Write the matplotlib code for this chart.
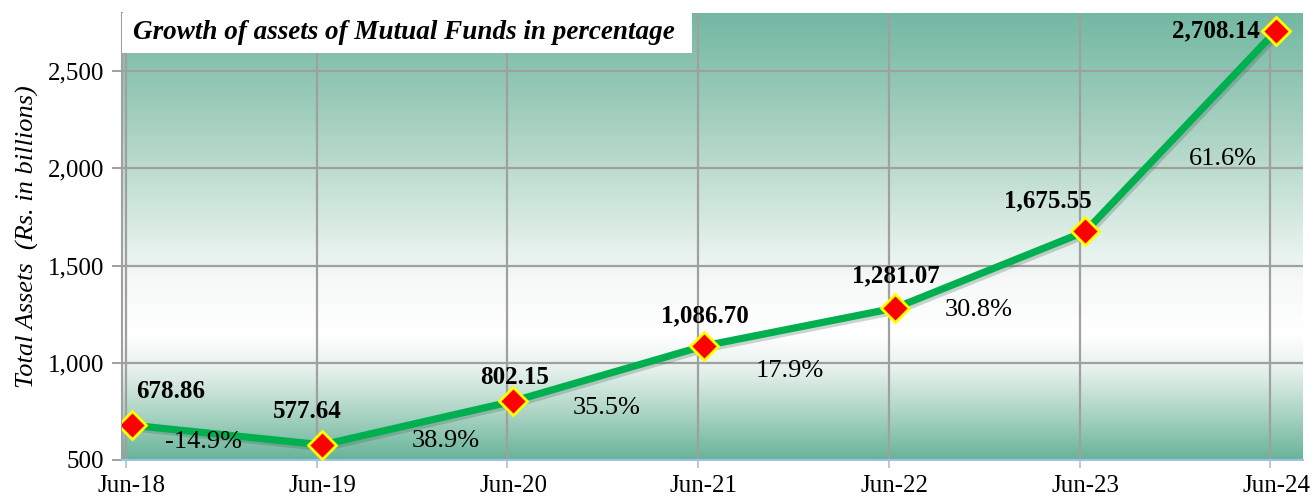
import matplotlib
matplotlib.use("Agg")
import numpy as np
import matplotlib.pyplot as plt
from matplotlib.colors import LinearSegmentedColormap
from matplotlib.patches import Rectangle
import matplotlib.patheffects as pe

# ---- data ----
periods = ["Jun-18", "Jun-19", "Jun-20", "Jun-21", "Jun-22", "Jun-23", "Jun-24"]
assets = [678.86, 577.64, 802.15, 1086.70, 1281.07, 1675.55, 2708.14]
growth = ["-14.9%", "38.9%", "35.5%", "17.9%", "30.8%", "61.6%"]

# ---- label placement (offsets in points) ----
value_offsets = [(28, 24), (-11, 24), (1, 17), (1, 22), (1, 23), (-27, 22), (-12, 0)]
growth_offsets = [(-17, -5), (20, -13), (-1, -25), (-7, -32), (-8, -29), (30, -20)]
X_SHIFT = 0.03   # points sit a little right of the month gridlines

plt.rcParams["font.family"] = ["Liberation Serif", "DejaVu Serif"]

fig = plt.figure(figsize=(13.15, 4.99), dpi=100)
ax = fig.add_axes([0.0928, 0.0782, 0.898, 0.896])

x = np.arange(len(periods))
xs = x + X_SHIFT

ax.set_xlim(-0.02, 6.17)
ax.set_ylim(500, 2800)

# background gradient (top teal -> white -> bottom teal)
bg = LinearSegmentedColormap.from_list("bg", [
    (0.00, "#67b499"), (0.10, "#a9d3c3"), (0.20, "#e6f1ec"), (0.28, "#ffffff"),
    (0.40, "#f6f9f8"), (0.55, "#d3e8df"), (0.75, "#a6d0c0"), (1.00, "#72b8a2")])
grad = np.linspace(0, 1, 256).reshape(-1, 1)
ax.imshow(grad, cmap=bg, aspect="auto", origin="lower",
          extent=[0, 1, 0, 1], transform=ax.transAxes, zorder=0)

# grid
ax.set_xticks(x, minor=True)
ax.set_xticks(xs)
ax.set_xticklabels(periods, fontsize=18)
ax.set_yticks([500, 1000, 1500, 2000, 2500])
ax.set_yticklabels(["500", "1,000", "1,500", "2,000", "2,500"], fontsize=18)
ax.grid(True, which="minor", axis="x", color="#a0a0a0", linewidth=1.6, zorder=1)
ax.grid(True, which="major", axis="y", color="#a0a0a0", linewidth=1.6, zorder=1)
ax.tick_params(axis="x", which="major", length=0, pad=11)
ax.tick_params(axis="x", which="minor", length=6, color="#9dc3e6", width=1.2)
ax.tick_params(axis="y", length=7, color="#a0a0a0", width=1.4, pad=6)
for s in ["top", "right"]:
    ax.spines[s].set_visible(False)
ax.spines["left"].set_color("#a0a0a0")
ax.spines["left"].set_linewidth(1.5)
ax.spines["bottom"].set_color("#9dc3e6")
ax.spines["bottom"].set_linewidth(1.5)

ax.set_ylabel("Total Assets  (Rs. in billions)", fontsize=19, style="italic", labelpad=6)

# title box
ax.add_patch(Rectangle((0, 0.910), 0.483, 0.09, transform=ax.transAxes,
                       facecolor="white", edgecolor="none", zorder=3))
ax.text(0.0093, 0.955, "Growth of assets of Mutual Funds in percentage",
        transform=ax.transAxes, fontsize=19.5, fontweight="bold", style="italic",
        ha="left", va="center", zorder=4)

# line + markers
shadow = [pe.SimpleLineShadow(offset=(1.5, -2), shadow_color="#3a5a4a", alpha=0.25), pe.Normal()]
ax.plot(xs, assets, color="#00b050", linewidth=5.2, zorder=5,
        solid_capstyle="round", path_effects=shadow)
ax.plot(xs, assets, linestyle="none", marker="D", markersize=14,
        markerfacecolor="#ff0000", markeredgecolor="#ffff00", markeredgewidth=2,
        zorder=6)

# value labels
for xi, v, (dx, dy) in zip(xs, assets, value_offsets):
    ha = "right" if dx < -10 and dy == 0 else "center"
    ax.annotate(f"{v:,.2f}", (xi, v), xytext=(dx, dy), textcoords="offset points",
                ha=ha, va="center", fontsize=18, fontweight="bold", zorder=7)

# growth labels
for i, (g, (dx, dy)) in enumerate(zip(growth, growth_offsets)):
    mx = (xs[i] + xs[i + 1]) / 2
    my = (assets[i] + assets[i + 1]) / 2
    ax.annotate(g, (mx, my), xytext=(dx, dy), textcoords="offset points",
                ha="center", va="center", fontsize=19, zorder=7)

fig.savefig("out.png", dpi=100)
